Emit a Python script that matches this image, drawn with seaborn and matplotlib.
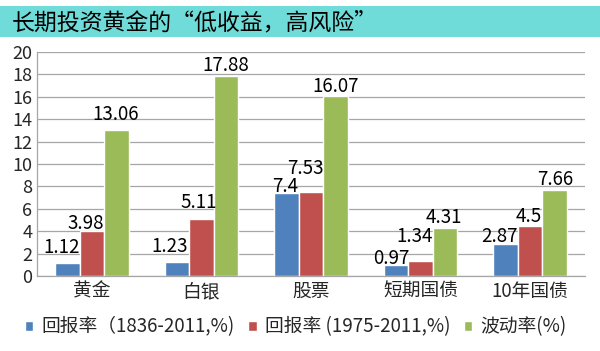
import matplotlib
matplotlib.use("Agg")
import matplotlib.pyplot as plt
import seaborn as sns
import pandas as pd

categories = ["黄金", "白银", "股票", "短期国债", "10年国债"]
series_names = ["回报率（1836-2011,%)", "回报率 (1975-2011,%)", "波动率(%)"]
ret_1836 = [1.12, 1.23, 7.4, 0.97, 2.87]
ret_1975 = [3.98, 5.11, 7.53, 1.34, 4.5]
volatility = [13.06, 17.88, 16.07, 4.31, 7.66]
yticks = list(range(0, 21, 2))
title = "长期投资黄金的“低收益，高风险”"
colors = ["#4F81BD", "#C0504D", "#9BBB59"]

# label placement offsets (pixels) as seen in the reference layout
label_dx = [[-6, -7, -1.5, -4.5, -6], [-6.5, -2.5, -6, -5.5, -1], [-1, 0, 0, -1.5, 1]]
label_dy = [[10, 10, 1, 1, 2], [2, 11, 18, 19, 4], [10, 5, 4, 5, 5]]

rows = []
for s, vals in zip(series_names, [ret_1836, ret_1975, volatility]):
    for c, v in zip(categories, vals):
        rows.append({"cat": c, "series": s, "val": v})
df = pd.DataFrame(rows)

sns.set_theme(style="white")
plt.rcParams["font.family"] = ["Noto Sans CJK SC", "DejaVu Sans"]

fig = plt.figure(figsize=(6, 3.51), dpi=100)
fig.patch.set_facecolor("white")
ax = fig.add_axes([37 / 600, 75 / 351, 548 / 600, 224 / 351])

sns.barplot(data=df, x="cat", y="val", hue="series", palette=colors,
            width=0.67, ax=ax, saturation=1, legend=True)

for i, cont in enumerate(ax.containers):
    for j, (patch, v) in enumerate(zip(cont, cont.datavalues)):
        xc = patch.get_x() + patch.get_width() / 2
        ax.annotate("%g" % v, (xc, patch.get_height()),
                    xytext=(label_dx[i][j], label_dy[i][j]), textcoords="offset pixels",
                    ha="center", va="baseline", fontsize=13.5, color="black")

ax.set_ylim(0, 20)
ax.set_yticks(yticks)
ax.set_yticklabels([str(t) for t in yticks], fontsize=13)
ax.tick_params(axis="y", length=0, pad=3.5)
ax.tick_params(axis="x", length=0, labelsize=13.5, pad=3.5)
ax.set_xlabel("")
ax.set_ylabel("")
ax.yaxis.grid(True, color="#A6A6A6", linewidth=0.9)
ax.set_axisbelow(True)
for side in ["top", "right"]:
    ax.spines[side].set_visible(False)
for side in ["left", "bottom"]:
    ax.spines[side].set_color("#A6A6A6")
    ax.spines[side].set_linewidth(0.9)

leg = ax.get_legend()
handles = leg.legend_handles
leg.remove()
fig.legend(handles, series_names, loc="center left", bbox_to_anchor=(25 / 600, 1 - 327 / 351),
           ncol=3, frameon=False, fontsize=13.5, handlelength=0.45, handleheight=0.45,
           handletextpad=0.45, columnspacing=0.7, borderaxespad=0, borderpad=0)

# title bar
fig.patches.append(matplotlib.patches.Rectangle((0, 1 - 37 / 351), 1, 31 / 351,
                                                transform=fig.transFigure,
                                                facecolor="#6FDCD9", edgecolor="none", zorder=0))
fig.text(12 / 600, 1 - 23 / 351, title, fontsize=16.5, fontweight="medium",
         va="center", ha="left", color="black")

fig.savefig("out.png", dpi=100)
